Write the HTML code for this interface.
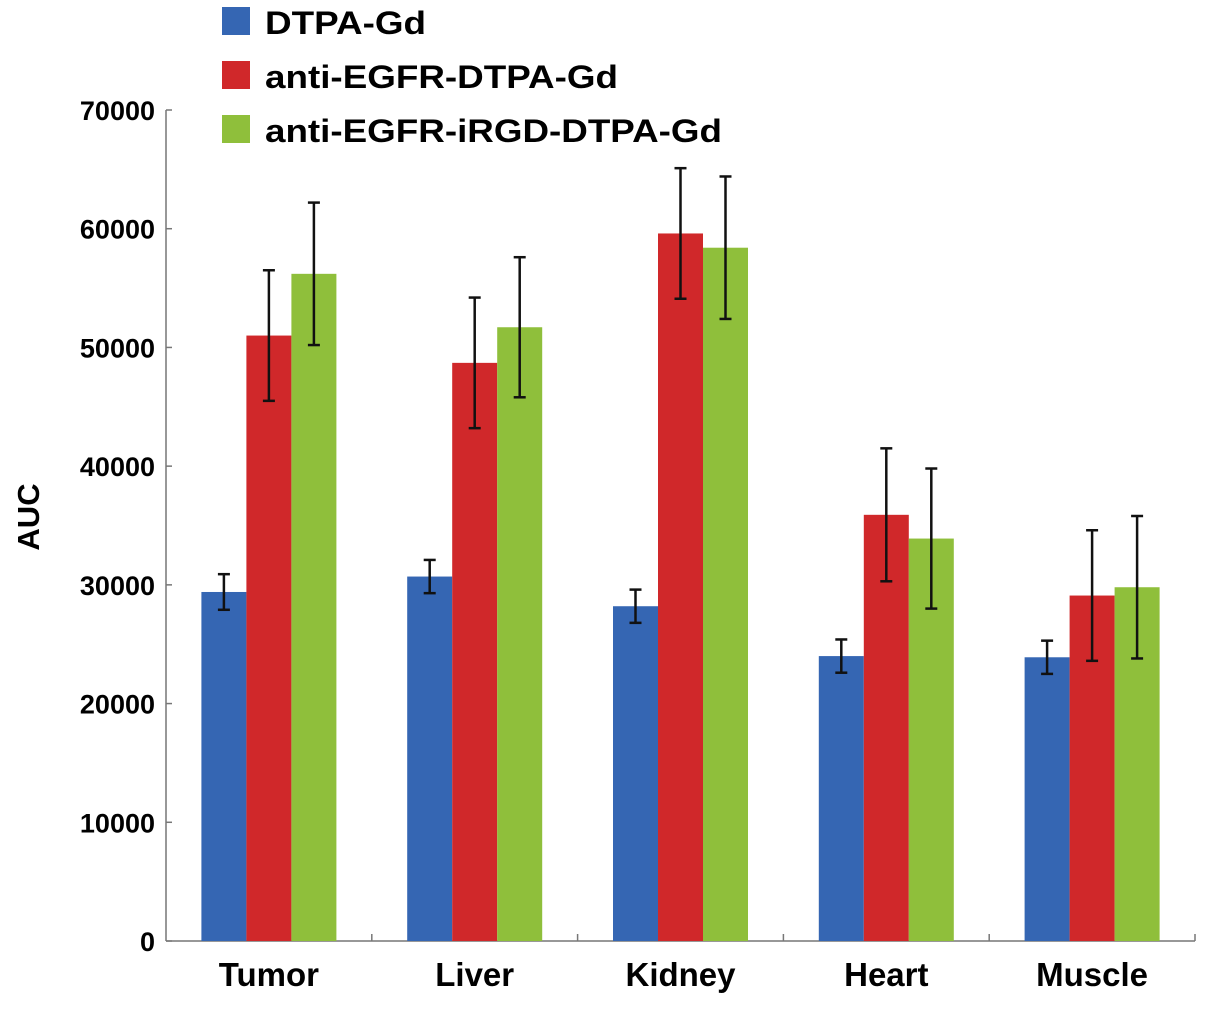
<!DOCTYPE html>
<html><head><meta charset="utf-8"><style>
body{margin:0;background:#fff;}
svg text{font-family:"Liberation Sans",Arial,sans-serif;font-weight:bold;fill:#000;}
</style></head><body>
<svg id="chart" width="1205" height="1007" xmlns="http://www.w3.org/2000/svg"></svg>
<script>
const categories=["Tumor","Liver","Kidney","Heart","Muscle"];
const seriesNames=["DTPA-Gd","anti-EGFR-DTPA-Gd","anti-EGFR-iRGD-DTPA-Gd"];
const dtpa=[29400,30700,28200,24000,23900];
const dtpaErr=[1500,1400,1400,1400,1400];
const antiEgfr=[51000,48700,59600,35900,29100];
const antiEgfrErr=[5500,5500,5500,5600,5500];
const irgd=[56200,51700,58400,33900,29800];
const irgdErr=[6000,5900,6000,5900,6000];
const yTicks=[0,10000,20000,30000,40000,50000,60000,70000];
const colors=["#3566b3","#d0282a","#8fbf3b"];
const legendWidths=[161,353,457];
const NS="http://www.w3.org/2000/svg";
const svg=document.getElementById("chart");
const X0=166,X1=1195,Y0=941,Y1=110,YMAX=70000;
const slot=(X1-X0)/categories.length;
const bw=45;
function y(v){return Y0-(v/YMAX)*(Y0-Y1);}
function mk(tag,attrs,parent){const e=document.createElementNS(NS,tag);for(const k in attrs)e.setAttribute(k,attrs[k]);(parent||svg).appendChild(e);return e;}
let ax=mk("line",{x1:X0,y1:Y1,x2:X0,y2:Y0,stroke:"#777","stroke-width":1.5});


let axx=mk("line",{x1:X0,y1:Y0,x2:X1,y2:Y0,stroke:"#777","stroke-width":1.5});


yTicks.forEach(t=>{
  mk("line",{x1:X0,y1:y(t),x2:X0+6,y2:y(t),stroke:"#777","stroke-width":1.5});
  const tx=mk("text",{x:155,y:y(t)+10,"text-anchor":"end","font-size":27});
  tx.textContent=t;
  
  
});
for(let i=1;i<=categories.length;i++){
  mk("line",{x1:X0+slot*i,y1:Y0,x2:X0+slot*i,y2:Y0-7,stroke:"#777","stroke-width":1.5});
}
const vals=[dtpa,antiEgfr,irgd],errs=[dtpaErr,antiEgfrErr,irgdErr];
categories.forEach((c,i)=>{
  const gx=X0+slot*i+slot/2-bw*1.5;
  for(let s=0;s<3;s++){
    const v=vals[s][i],e=errs[s][i],bx=gx+s*bw;
    const r=mk("rect",{x:bx,y:y(v),width:bw,height:Y0-y(v),fill:colors[s]});
    
    
    const cx=bx+bw/2;
    const g=mk("g",{stroke:"#111","stroke-width":2.5});
    
    
    mk("line",{x1:cx,y1:y(v+e),x2:cx,y2:y(v-e)},g);
    mk("line",{x1:cx-6,y1:y(v+e),x2:cx+6,y2:y(v+e)},g);
    mk("line",{x1:cx-6,y1:y(v-e),x2:cx+6,y2:y(v-e)},g);
  }
  const t=mk("text",{x:X0+slot*i+slot/2,y:986,"text-anchor":"middle","font-size":33});
  t.textContent=c;
  
  
});
const yt=mk("text",{x:0,y:0,"text-anchor":"middle","font-size":31,transform:"translate(39,517) rotate(-90)"});
yt.textContent="AUC";


seriesNames.forEach((n,s)=>{
  const g=mk("g",{});
  
  
  const ly=7+s*54;
  mk("rect",{x:222,y:ly,width:28,height:28,fill:colors[s]},g);
  const t=mk("text",{x:265,y:ly+27,"font-size":32,textLength:legendWidths[s],lengthAdjust:"spacingAndGlyphs"},g);
  t.textContent=n;
});
</script>
</body></html>
